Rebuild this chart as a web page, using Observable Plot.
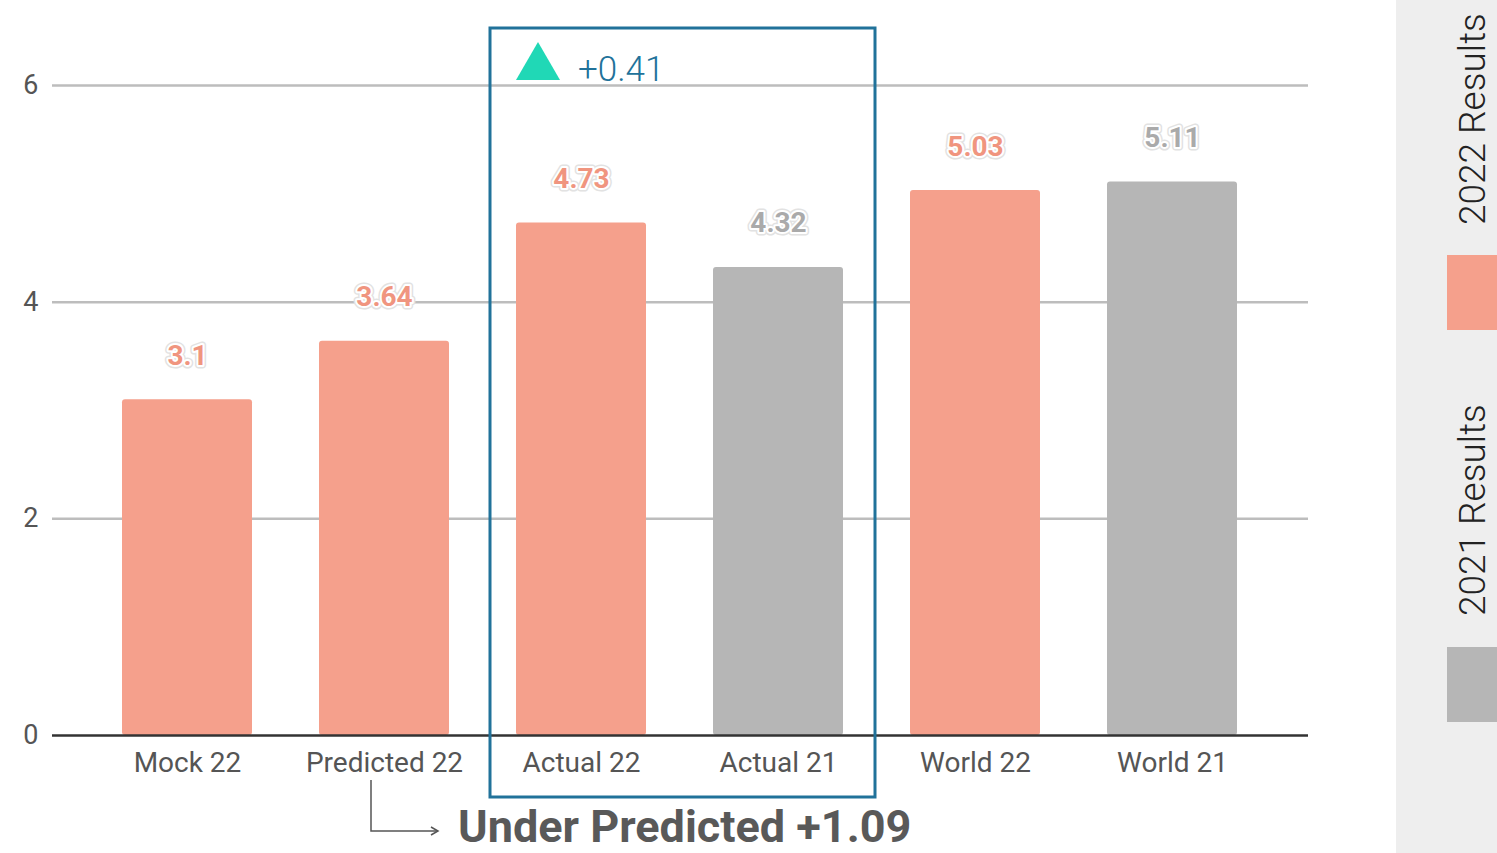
<!DOCTYPE html>
<html>
<head>
<meta charset="utf-8">
<script src="https://cdn.jsdelivr.net/npm/d3@7"></script>
<script src="https://cdn.jsdelivr.net/npm/@observablehq/plot@0.6"></script>
<style>
  html, body { margin: 0; padding: 0; background: #fff; }
  #wrap { position: relative; width: 1497px; height: 853px; overflow: hidden; font-family: Roboto, sans-serif; }
  #legend { position: absolute; left: 1396px; top: 0; width: 101px; height: 853px; background: #eeeeee; }
  .sw { position: absolute; left: 51px; width: 50px; height: 75px; }
  .lt { position: absolute; font-family: "Roboto Light", Roboto, sans-serif; font-weight: 300; font-size: 37px; color: #222;
        white-space: nowrap; transform-origin: 0 0; transform: rotate(-90deg); line-height: 1; }
</style>
</head>
<body>
<div id="wrap"></div>
<script>
const categories = ["Mock 22", "Predicted 22", "Actual 22", "Actual 21", "World 22", "World 21"];
const values = [3.1, 3.64, 4.73, 4.32, 5.03, 5.11];
const series = ["2022 Results", "2022 Results", "2022 Results", "2021 Results", "2022 Results", "2021 Results"];
const valueLabels = ["3.1", "3.64", "4.73", "4.32", "5.03", "5.11"];
const yTicks = [0, 2, 4, 6];
const seriesNames = ["2022 Results", "2021 Results"];
const seriesColors = ["#f5a08c", "#b6b6b6"];
const labelColors = ["#f0957f", "#aaaaaa"];
const deltaText = "+0.41";
const noteText = "Under Predicted +1.09";

const data = categories.map((c, i) => ({cat: c, value: values[i], series: series[i], label: valueLabels[i]}));
const labelColor = d => labelColors[seriesNames.indexOf(d.series)];

const plot = Plot.plot({
  width: 1497,
  height: 853,
  marginTop: 85,
  marginBottom: 118,
  marginLeft: 52,
  marginRight: 189,
  style: {fontFamily: "Roboto, sans-serif", background: "transparent", overflow: "visible"},
  x: {domain: categories, paddingInner: 0.34, paddingOuter: 0.348, label: null},
  y: {domain: [0, 6], label: null},
  color: {domain: seriesNames, range: seriesColors},
  marks: [
    Plot.ruleY(yTicks.filter(d => d > 0), {stroke: "#bdbdbd", strokeWidth: 2.5}),
    Plot.barY(data, {x: "cat", y: "value", fill: "series", rx: 3}),
    Plot.ruleY([0], {stroke: "#333", strokeWidth: 2.5}),
    Plot.axisY({ticks: yTicks, tickFormat: d3.format("d"), tickSize: 0, tickPadding: 14, fontSize: 27, fill: "#555", label: null}),
    Plot.axisX({tickSize: 0, tickPadding: 17, fontSize: 28, fill: "#555", label: null}),
    Plot.text(data, {x: "cat", y: "value", text: "label", dy: -44, fill: labelColor, stroke: "#e2e2e2", strokeWidth: 7, fontSize: 28, fontWeight: "bold"}),
    Plot.text(data, {x: "cat", y: "value", text: "label", dy: -44, fill: labelColor, stroke: "#fff", strokeWidth: 4, fontSize: 28, fontWeight: "bold"})
  ]
});

document.getElementById("wrap").appendChild(plot);

// Annotations positioned from the plot's own scales
const xs = plot.scale("x");
const ys = plot.scale("y");
const bw = xs.bandwidth;
const svg = d3.select(plot);
const g = svg.append("g").attr("text-anchor", "start");

const boxL = xs.apply("Actual 22") - 26;
const boxR = xs.apply("Actual 21") + bw + 32;
const boxT = ys.apply(6) - 57;
const boxB = ys.apply(0) + 62;
g.append("rect").attr("x", boxL).attr("y", boxT).attr("width", boxR - boxL).attr("height", boxB - boxT)
  .attr("fill", "none").attr("stroke", "#21729a").attr("stroke-width", 3);

const triCx = boxL + 48, triBase = ys.apply(6) - 5;
g.append("path").attr("d", `M${triCx - 22},${triBase}L${triCx + 22},${triBase}L${triCx},${triBase - 38}Z`).attr("fill", "#20d8b6");
g.append("text").attr("x", boxL + 88).attr("y", triBase + 1).attr("font-size", 35).attr("font-weight", 300)
  .attr("font-family", "Roboto, sans-serif").attr("fill", "#21729a").text(deltaText);

const ax = xs.apply("Predicted 22") + bw / 2 - 13;
const ay0 = ys.apply(0) + 45, ay1 = ys.apply(0) + 96, ax1 = ax + 67;
g.append("path").attr("d", `M${ax},${ay0}V${ay1}H${ax1}`).attr("fill", "none").attr("stroke", "#555").attr("stroke-width", 1.5);
g.append("path").attr("d", `M${ax1 - 7},${ay1 - 4}L${ax1},${ay1}L${ax1 - 7},${ay1 + 4}`).attr("fill", "none").attr("stroke", "#555").attr("stroke-width", 1.5);
g.append("text").attr("x", ax + 87).attr("y", ys.apply(0) + 107).attr("font-size", 45).attr("font-weight", "bold")
  .attr("font-family", "Roboto, sans-serif").attr("fill", "#595959").text(noteText);

// Legend panel
const legend = document.createElement("div");
legend.id = "legend";
const legendItems = [
  {name: seriesNames[0], color: seriesColors[0], textBottom: 225, swTop: 255},
  {name: seriesNames[1], color: seriesColors[1], textBottom: 616, swTop: 647}
];
legendItems.forEach(it => {
  const t = document.createElement("div");
  t.className = "lt";
  t.textContent = it.name;
  t.style.left = "58px";
  t.style.top = it.textBottom + "px";
  legend.appendChild(t);
  const s = document.createElement("div");
  s.className = "sw";
  s.style.top = it.swTop + "px";
  s.style.background = it.color;
  legend.appendChild(s);
});
document.getElementById("wrap").appendChild(legend);
</script>
</body>
</html>
